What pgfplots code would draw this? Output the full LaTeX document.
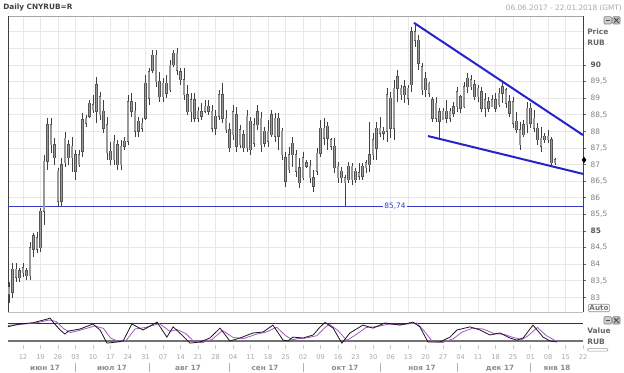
\documentclass[border=0pt]{standalone}
\usepackage{pgfplots}
\usepackage{pgfplotstable}
\pgfplotsset{compat=1.18}
\usepackage{fontspec}
\setmainfont{DejaVu Sans}
\definecolor{gridc}{HTML}{E8E8E8}
\definecolor{trend}{HTML}{2424C8}
\definecolor{hline}{HTML}{3A3AC8}
\definecolor{purp}{HTML}{A855C8}
\definecolor{lab}{HTML}{808080}
\definecolor{lablight}{HTML}{A8A8A8}
\definecolor{candleedge}{HTML}{555555}
\definecolor{candlefill}{HTML}{999999}

\pgfplotstableread{
i o h l c
-4 83.30 83.46 82.83 83.10
-3 83.15 84.04 82.98 83.85
-2 83.85 84.04 83.46 83.60
-1 83.60 83.89 83.46 83.80
0 83.75 84.04 83.61 83.90
1 83.80 83.89 83.52 83.65
2 83.65 84.67 83.52 84.50
3 84.45 84.94 84.22 84.85
4 84.80 84.97 84.34 84.45
5 84.50 85.69 84.37 85.60
6 85.60 87.29 85.18 87.10
7 87.10 88.40 86.84 88.20
8 88.20 88.40 87.35 87.60
9 87.60 87.80 86.99 87.20
10 86.80 86.90 85.72 85.90
11 85.90 87.20 85.75 87.00
12 87.05 87.98 86.93 87.80
13 87.60 87.74 86.99 87.20
14 87.20 87.83 86.78 87.55
15 87.30 87.44 86.54 86.80
16 87.00 87.44 86.93 87.30
17 87.40 88.55 87.23 88.35
18 88.25 88.49 88.13 88.40
19 88.45 88.95 88.40 88.85
20 88.80 89.10 88.55 88.65
21 88.60 89.64 88.25 89.40
22 89.05 89.19 88.34 88.50
23 88.60 88.95 87.95 88.10
24 88.20 88.43 87.14 87.35
25 87.40 87.68 86.99 87.15
26 87.15 87.89 86.99 87.70
27 87.60 87.74 86.84 87.00
28 87.00 87.74 86.84 87.55
29 87.55 87.83 87.44 87.70
30 87.70 89.10 87.59 88.90
31 88.90 89.16 88.43 88.60
32 88.60 88.89 87.83 88.00
33 88.00 88.43 87.83 88.30
34 88.25 88.40 87.98 88.10
35 88.40 89.70 88.34 89.45
36 89.00 89.91 88.80 89.80
37 89.85 90.45 89.76 90.30
38 90.30 90.45 89.34 89.50
39 89.50 89.79 88.89 89.05
40 89.05 89.61 88.89 89.45
41 89.45 89.70 89.01 89.15
42 89.25 90.15 89.19 90.00
43 90.00 90.45 89.94 90.35
44 90.35 90.51 89.70 89.85
45 89.80 89.91 89.40 89.55
46 89.55 89.91 88.95 89.10
47 89.10 89.40 88.49 88.60
48 88.60 89.16 88.28 88.95
49 88.95 89.16 88.28 88.40
50 88.40 88.73 88.28 88.60
51 88.60 88.86 88.34 88.45
52 88.60 88.95 88.55 88.75
53 88.75 88.95 88.49 88.60
54 88.60 88.80 87.98 88.10
55 88.10 88.64 87.89 88.45
56 88.45 89.25 88.34 89.10
57 89.10 89.46 88.25 88.40
58 88.40 88.64 87.95 88.05
59 88.05 88.25 87.38 87.50
60 87.90 88.80 87.74 88.60
61 88.50 88.73 87.38 87.55
62 87.60 88.19 87.50 88.05
63 87.90 88.04 87.38 87.50
64 87.50 88.64 87.38 88.45
65 88.30 88.43 87.29 87.45
66 87.65 88.40 87.53 88.20
67 88.20 88.80 88.04 88.60
68 88.40 88.58 87.38 87.60
69 87.65 88.13 87.53 88.00
70 88.00 88.34 87.53 87.70
71 87.90 88.64 87.83 88.50
72 88.40 88.55 87.68 87.85
73 87.85 88.55 87.44 88.40
74 88.00 88.10 87.14 87.30
75 87.20 87.38 86.33 86.50
76 86.85 87.53 86.75 87.30
77 87.30 87.83 86.93 87.65
78 87.30 87.44 86.63 86.80
79 86.90 87.20 86.30 86.45
80 86.60 87.38 86.54 87.20
81 87.05 87.14 86.90 86.95
82 86.95 87.14 86.45 86.60
83 86.60 86.84 86.17 86.35
84 86.80 87.50 86.69 87.35
85 87.35 88.34 87.23 88.10
86 88.10 88.40 87.59 87.80
87 87.80 88.28 87.44 88.15
88 87.75 87.80 87.44 87.55
89 87.55 87.80 86.75 86.90
90 86.95 87.08 86.45 86.60
91 86.60 86.93 86.45 86.80
92 86.60 86.69 85.74 86.45
93 86.55 87.08 86.45 86.95
94 86.95 87.05 86.39 86.55
95 86.55 86.90 86.45 86.80
96 86.75 87.05 86.54 86.65
97 86.65 87.05 86.54 86.95
98 86.90 87.14 86.75 87.05
99 87.00 88.28 86.78 87.30
100 87.30 87.95 87.14 87.75
101 87.50 88.28 87.14 88.10
102 88.10 88.43 87.83 87.95
103 87.95 88.13 87.74 88.00
104 88.00 89.31 87.68 89.10
105 89.00 89.19 87.80 88.10
106 88.10 89.55 87.74 89.30
107 89.30 89.85 88.89 89.65
108 89.30 89.40 88.95 89.10
109 89.10 89.55 88.86 89.35
110 89.30 89.40 88.80 89.00
111 89.40 91.14 89.19 91.00
112 91.00 91.25 90.55 90.75
113 90.75 90.90 89.85 90.05
114 89.95 90.06 89.10 89.25
115 89.25 89.79 89.04 89.60
116 89.45 89.49 89.04 89.15
117 88.95 89.04 88.28 88.40
118 88.40 89.04 88.28 88.85
119 88.60 88.70 87.80 88.30
120 88.35 88.70 88.34 88.60
121 88.60 88.95 88.25 88.40
122 88.40 88.70 88.28 88.60
123 88.55 88.89 88.43 88.75
124 88.75 89.34 88.58 89.20
125 89.05 89.10 88.55 88.70
126 88.75 89.49 88.70 89.35
127 89.35 89.76 89.16 89.60
128 89.55 89.70 89.25 89.35
129 89.40 89.55 88.95 89.05
130 89.05 89.40 88.89 89.30
131 89.20 89.34 88.58 88.70
132 88.70 89.16 88.43 88.95
133 88.90 89.04 88.58 88.70
134 88.75 89.10 88.73 88.95
135 88.95 89.16 88.58 88.70
136 88.80 89.31 88.73 89.15
137 89.15 89.46 88.86 89.35
138 89.25 89.31 88.70 88.85
139 88.90 89.10 88.43 88.55
140 88.90 89.04 88.10 88.25
141 88.30 88.58 87.95 88.05
142 88.05 88.28 87.44 87.60
143 87.90 88.34 87.83 88.20
144 88.20 88.89 87.95 88.70
145 88.70 88.86 88.10 88.25
146 88.40 88.64 87.98 88.10
147 88.10 88.25 87.59 87.75
148 87.80 88.13 87.38 87.55
149 87.75 87.95 87.65 87.85
150 87.85 88.04 87.65 87.75
151 87.75 87.83 86.93 87.05
152 87.05 87.20 86.99 87.15
}\candles

\pgfplotsset{nomarks/.style={only marks, mark=*, mark size=0pt, mark options={draw opacity=0, fill opacity=0}}}

\begin{document}
\begin{tikzpicture}
\path[use as bounding box] (0,0) rectangle (468pt,279pt);

% header texts
\node[anchor=west, inner sep=0pt, font=\bfseries\fontsize{5.5}{6}\selectfont, text=black!75] at (2.25pt,273pt) {Daily CNYRUB=R};
\node[anchor=east, inner sep=0pt, font=\fontsize{5.5}{6}\selectfont, text=lablight] at (466.5pt,273pt) {06.06.2017 - 22.01.2018 (GMT)};

% ===== main price panel =====
\begin{axis}[
  at={(6pt,45pt)}, anchor=south west,
  scale only axis, width=431.25pt, height=222pt,
  xmin=-4.2857, xmax=160, ymin=82.56, ymax=91.476,
  axis line style={draw=none},
  xtick={0,5,...,160}, xticklabels={}, xtick style={draw=none},
  ytick={83,83.5,84,84.5,85,85.5,86,86.5,87,87.5,88,88.5,89,89.5,90},
  yticklabels={83,{83,5},84,{84,5},\textbf{\color{black!65}85},{85,5},86,{86,5},87,{87,5},88,{88,5},89,{89,5},\textbf{\color{black!65}90}},
  extra y ticks={90.5,91}, extra y tick labels={}, extra y tick style={major tick length=0pt},
  ytick pos=right, yticklabel pos=right,
  tick align=outside, major tick length=2.25pt,
  ytick style={color=black!60, line width=0.5pt},
  grid=major, major grid style={gridc, line width=0.5pt},
  yticklabel style={font=\fontsize{5.6}{6}\selectfont, text=lab},
  clip=false,
]
% borders
\draw[black!35, line width=0.6pt] (rel axis cs:0,1) -- (rel axis cs:1,1);
\draw[black!25, line width=0.5pt] (rel axis cs:0,0) -- (rel axis cs:1,0);
\draw[black!75, line width=0.7pt] (rel axis cs:0,0) -- (rel axis cs:0,1);
\draw[black!75, line width=0.7pt] (rel axis cs:1,0) -- (rel axis cs:1,1);

% support line 85.74
\addplot[hline, line width=0.6pt] coordinates {(-4.2857,85.74) (160,85.74)};
\node[fill=white, inner sep=1pt, text=hline, font=\fontsize{5.6}{6}\selectfont] at (axis cs:106.3,85.74) {85,74};

% wicks
\addplot[nomarks, error bars/.cd, y dir=both, y explicit, error mark=none,
  error bar style={line width=0.4pt, color=black!75}]
  table[x=i, y expr={(\thisrow{h}+\thisrow{l})/2}, y error expr={(\thisrow{h}-\thisrow{l})/2}] {\candles};
% bodies: edge
\addplot[nomarks, error bars/.cd, y dir=both, y explicit, error mark=none,
  error bar style={line width=1.8pt, color=candleedge}]
  table[x=i, y expr={(\thisrow{o}+\thisrow{c})/2}, y error expr={abs(\thisrow{o}-\thisrow{c})/2+0.015}] {\candles};
% bodies: fill
\addplot[nomarks, error bars/.cd, y dir=both, y explicit, error mark=none,
  error bar style={line width=1.0pt, color=candlefill}]
  table[x=i, y expr={(\thisrow{o}+\thisrow{c})/2}, y error expr={abs(\thisrow{o}-\thisrow{c})/2}] {\candles};

% trend lines
\addplot[trend, line width=1.5pt] coordinates {(111.7,91.27) (160,87.89)};
\addplot[trend, line width=1.5pt] coordinates {(115.7,87.86) (160,86.72)};

% last price marker
\addplot[only marks, mark=diamond*, mark size=2pt, black] coordinates {(160.3,87.14)};
\end{axis}

% ===== oscillator panel =====
\begin{axis}[
  at={(6pt,17.25pt)}, anchor=south west,
  scale only axis, width=431.25pt, height=25.5pt,
  xmin=-4.2857, xmax=160, ymin=-6.667, ymax=106.667,
  axis line style={draw=none}, ytick=\empty,
  xtick={0,5,...,160},
  xticklabels={12,19,26,03,10,17,24,31,07,14,21,28,04,11,18,25,02,09,16,23,30,06,13,20,27,04,11,18,25,01,08,15,22},
  xtick pos=bottom, tick align=inside, major tick length=3pt,
  xtick style={color=black!20, line width=0.5pt},
  xticklabel style={font=\fontsize{5}{6}\selectfont, text=lablight, anchor=north, inner sep=0pt, yshift=-4pt},
  clip=false,
]
\addplot[black!80, line width=0.7pt] coordinates {(-4.2857,80) (160,80)};
\addplot[black!55, line width=1.5pt] coordinates {(-4.2857,20) (160,20)};
\addplot[purp, line width=0.6pt] coordinates {
(-4.3,72) (0,76) (3.5,80) (7.5,90) (9.5,85) (11.5,62) (13.5,48) (16,55) (20.5,70) (23,62) (25,30) (27.5,17) (29.5,22) (32,60) (35,65) (39,78) (42,52) (44,58) (46.5,45) (48.5,22) (51,14) (54,25) (57,55) (60,32) (63,28) (66.5,42) (69.5,50) (72.5,66) (75,38) (77,24) (78.5,28) (81,30) (84,38) (86,62) (87.5,76) (90,55) (92.5,22) (95,40) (98,65) (101,68) (104.5,76) (108.5,75) (112.5,80) (114.5,55) (117,18) (120,15) (123,28) (125.5,50) (128.5,63) (131.5,60) (134.5,45) (137.5,42) (140,32) (142.5,25) (144,35) (147,65) (149.5,38) (152,22) (153,20)};
\addplot[black!90, line width=0.6pt] coordinates {
(-4.3,67.7) (-0.9,76.7) (2.9,81) (6.9,93) (7.7,96.7) (8.6,83) (10.6,56.7) (12,43) (12.9,53) (16.3,60) (20,76.7) (22,56.7) (24,13) (26.9,16.7) (28.6,20) (31.1,76.7) (34.3,56.7) (38.3,83) (41.1,33) (42.9,67) (45.4,40) (47.7,13) (50.6,16.7) (53.4,30) (56.3,63) (59.1,20) (62,30) (65.7,46.7) (68.6,50) (71.4,73) (74.3,23) (75.7,20) (77.1,33) (80,30) (82.9,40) (84.9,67) (86.3,82) (88.6,63) (91.1,13) (93.4,46.7) (97.1,73) (100,63) (103.4,80) (107.7,73) (111.4,83) (113.4,67) (115.7,16.7) (119.1,16.7) (122,33) (124,56.7) (127.7,67) (130.6,56.7) (133.4,40) (136.3,46.7) (139.1,30) (141.1,23) (142.9,30) (145.7,73) (148.6,33) (150.6,20) (152.6,16.7)};
\end{axis}

% month separators and labels
\foreach \mx in {56.625,111.75,172.125,227.25,285,342.75,397.875}
  \draw[black!30, line width=0.5pt] (\mx pt,0pt) -- (\mx pt,7pt);
\foreach \mx/\ml in {33.75/июн 17,84/июл 17,141/авг 17,198.75/сен 17,258.75/окт 17,316.5/ноя 17,375/дек 17,417.75/янв 18}
  \node[font=\bfseries\fontsize{5.4}{6}\selectfont, text=black!45, inner sep=0pt] at (\mx pt,3pt) {\ml};

% right side labels
\node[anchor=west, inner sep=0pt, font=\bfseries\fontsize{5.6}{6}\selectfont, text=black!60] at (440.25pt,255pt) {Price};
\node[anchor=west, inner sep=0pt, font=\bfseries\fontsize{5.6}{6}\selectfont, text=black!60] at (440.25pt,246.75pt) {RUB};
\node[draw=black!45, rounded corners=0.8pt, inner sep=0.8pt, font=\bfseries\fontsize{5.4}{6}\selectfont, text=black!55] at (449.25pt,48pt) {Auto};
\node[anchor=west, inner sep=0pt, font=\bfseries\fontsize{5.6}{6}\selectfont, text=black!60] at (440.25pt,30.75pt) {Value};
\node[anchor=west, inner sep=0pt, font=\bfseries\fontsize{5.6}{6}\selectfont, text=black!60] at (440.25pt,22.5pt) {RUB};
\draw[black!40, rounded corners=1pt, line width=0.4pt] (440.5pt,15.6pt) rectangle (456pt,17.6pt);

% window icons
\foreach \yy in {261,36} {
  \draw[black!50, fill=black!20, rounded corners=0.6pt, line width=0.4pt] (453pt,\yy pt) rectangle (458.5pt,\yy pt+5.5pt);
  \draw[black!70, line width=0.6pt] (454.3pt,\yy pt+2.75pt) -- (457.2pt,\yy pt+2.75pt);
  \draw[black!50, fill=black!25, rounded corners=0.6pt, line width=0.4pt] (459.5pt,\yy pt) rectangle (465pt,\yy pt+5.5pt);
  \draw[black!75, line width=0.6pt] (460.6pt,\yy pt+1.1pt) -- (463.9pt,\yy pt+4.4pt) (460.6pt,\yy pt+4.4pt) -- (463.9pt,\yy pt+1.1pt);
}
\end{tikzpicture}
\end{document}
